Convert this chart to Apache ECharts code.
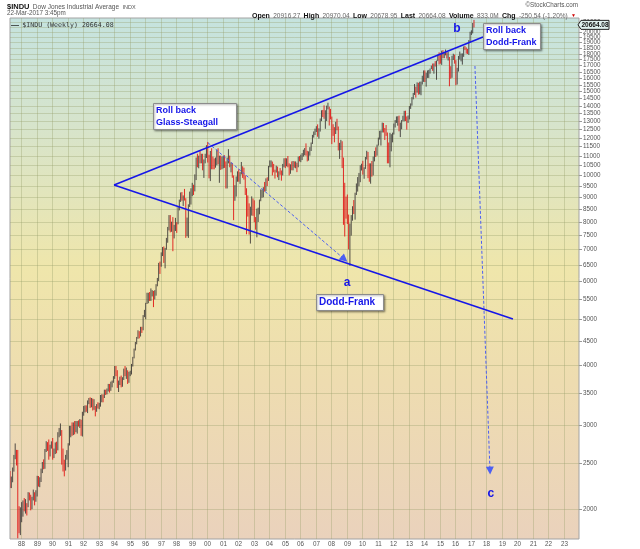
<!DOCTYPE html>
<html>
<head>
<meta charset="utf-8">
<script src="https://cdn.jsdelivr.net/npm/echarts@6.0.0/dist/echarts.min.js"></script>
<style>
html,body{margin:0;padding:0;background:#ffffff;}
#chart{width:640px;height:549px;}
</style>
</head>
<body>
<div id="chart"></div>
<script>
// ================= DATA =================
// Monthly bars of $INDU, first bar = April 1987
const firstYear = 1987;
const firstMonth = 4;
const firstOpen = 2305;
const closes = [
  2286,2292,2419,2572,2663,2596,1994,1834,1939,
  1958,2072,1988,2032,2031,2142,2129,2032,2113,2149,2115,2169,
  2342,2258,2294,2419,2480,2440,2661,2737,2693,2645,2706,2753,
  2591,2627,2707,2657,2877,2881,2905,2614,2452,2442,2560,2634,
  2736,2882,2914,2888,3028,2907,3025,3044,3017,3069,2895,3169,
  3223,3268,3235,3359,3397,3319,3394,3257,3272,3226,3305,3301,
  3310,3371,3435,3428,3527,3516,3539,3651,3555,3681,3684,3754,
  3978,3832,3636,3682,3758,3625,3765,3913,3843,3908,3739,3834,
  3844,4011,4158,4321,4465,4556,4708,4611,4789,4755,5074,5117,
  5395,5486,5587,5569,5643,5655,5529,5616,5882,6029,6522,6448,
  6813,6878,6583,7009,7331,7673,8223,7622,7945,7442,7823,7908,
  7907,8546,8800,9063,8900,8952,8883,7539,7843,8592,9117,9181,
  9359,9307,9786,10789,10560,10971,10655,10829,10337,10730,10878,11497,
  10941,10128,10922,10734,10522,10448,10522,11215,10651,10971,10414,10787,
  10887,10495,9879,10735,10912,10502,10523,9950,8848,9075,9852,10022,
  9920,10106,10404,9946,9925,9243,8737,8664,7592,8397,8896,8342,
  8054,7891,7992,8480,8850,8985,9234,9416,9275,9801,9782,10454,
  10488,10584,10358,10226,10188,10435,10140,10174,10080,10027,10428,10783,
  10490,10766,10504,10193,10467,10275,10641,10482,10569,10440,10806,10718,
  10865,10993,11109,11367,11168,11150,11186,11381,11679,12081,12222,12463,
  12622,12269,12354,13063,13628,13409,13212,13358,13896,13930,13372,13265,
  12650,12266,12263,12820,12638,11350,11378,11544,10851,9325,8829,8776,
  8001,7063,7609,8168,8500,8447,9172,9496,9712,9713,10345,10428,
  10067,10325,10857,11009,10137,9774,10466,10015,10788,11118,11006,11578,
  11892,12226,12320,12811,12570,12414,12143,11614,10913,11955,12046,12218,
  12633,12952,13212,13214,12393,12880,13009,13091,13437,13096,13026,13104,
  13861,14054,14579,14840,15116,14910,15500,14810,15130,15546,16086,16577,
  15699,16322,16458,16581,16717,16827,16563,17098,17043,17391,17828,17823,
  17165,18133,17776,17841,18011,17620,17690,16528,16285,17664,17720,17425,
  16466,16517,17685,17774,17787,17930,18432,18401,18308,18142,19124,19763,
  19864,20812,20664
];
const highs = [
  2405,2342,2446,2599,2747,2662,2662,2030,2019,
  2070,2087,2111,2100,2060,2172,2168,2145,2124,2199,2171,2192,
  2350,2348,2334,2433,2512,2544,2674,2777,2764,2800,2730,2775,
  2820,2680,2760,2770,2900,2960,3025,2930,2680,2540,2600,2660,
  2750,2990,2990,3040,3040,3060,3060,3060,3070,3090,3080,3200,
  3290,3300,3300,3380,3420,3430,3420,3410,3400,3290,3320,3350,
  3340,3470,3480,3480,3560,3560,3580,3660,3660,3700,3720,3800,
  3990,3990,3910,3720,3790,3810,3780,3940,3990,3960,3900,3880,
  3900,4030,4170,4340,4480,4590,4740,4720,4820,4820,5100,5230,
  5410,5680,5680,5700,5800,5750,5730,5750,5920,6100,6560,6600,
  6900,7080,7100,7050,7400,7800,8260,8260,8000,8180,7880,8150,
  7980,8580,8900,9210,9230,9080,9370,8960,8160,8700,9250,9400,
  9650,9560,10050,10900,11100,11000,11300,11100,11100,10800,11100,11570,
  11750,11050,11250,11400,10950,10850,10900,11330,11400,11000,11000,10950,
  11000,11020,10700,10900,11350,11000,10650,10620,10000,9540,9950,10200,
  10300,10160,10670,10450,10380,10000,9400,9080,8740,8600,9040,8950,
  8870,8180,8520,8560,8900,9350,9340,9450,9690,9860,9910,10470,
  10750,10750,10690,10570,10280,10480,10400,10200,10360,10240,10570,10860,
  10870,10860,10980,10600,10550,10700,10720,10700,10700,10630,10950,10980,
  11050,11140,11320,11410,11670,11260,11230,11460,11720,12160,12360,12530,
  12680,12790,12550,13160,13690,13710,14020,13690,14000,14200,13930,13780,
  13280,12800,12620,12950,13140,12660,11700,11870,11790,10900,9650,9030,
  9120,8280,7930,8260,8620,8880,9200,9620,9920,10120,10500,10580,
  10730,10400,10930,11260,11200,10600,10600,10720,10950,11250,11450,11600,
  12000,12400,12420,12900,12880,12570,12750,12300,11720,12280,12200,12290,
  12840,13060,13290,13300,13340,12900,13060,13330,13650,13660,13290,13350,
  13970,14150,14590,14890,15540,15340,15660,15630,15710,15720,16170,16590,
  16590,16400,16590,16630,16740,16980,17150,17160,17350,17400,17900,18100,
  18000,18250,18290,18110,18350,18100,18140,17700,16930,17800,17980,17900,
  17430,16800,17790,18170,18000,18010,18620,18670,18540,18400,19200,19990,
  20130,20850,21170
];
const lows = [
  2216,2215,2278,2398,2546,2470,1739,1782,1766,
  1879,1930,1980,1959,1941,2020,2087,1990,2001,2087,2038,2074,
  2127,2231,2225,2281,2381,2426,2431,2636,2650,2540,2580,2680,
  2540,2560,2610,2620,2660,2830,2850,2480,2400,2344,2410,2540,
  2450,2720,2830,2850,2860,2870,2900,2880,2980,2960,2850,2840,
  3140,3190,3200,3180,3320,3260,3270,3220,3230,3130,3200,3250,
  3240,3280,3350,3350,3420,3470,3480,3530,3510,3540,3600,3680,
  3750,3800,3590,3520,3640,3600,3610,3730,3800,3750,3660,3680,
  3800,3830,3980,4140,4300,4430,4550,4560,4600,4680,4740,5050,
  5000,5380,5400,5460,5460,5580,5300,5500,5600,5860,6010,6220,
  6440,6780,6560,6390,6990,7230,7670,7600,7620,6940,7380,7650,
  7580,7900,8450,8800,8850,8630,8860,7400,7460,7400,8590,8690,
  9050,9100,9260,9780,10400,10350,10600,10600,10250,9880,10600,10900,
  10640,9860,9730,10300,10300,10300,10380,10500,10550,9650,10270,10300,
  10350,10370,9390,9390,10600,10400,10150,9890,8060,8890,9030,9700,
  9700,9600,10050,9880,9800,9100,7530,8200,7520,7200,8240,8230,
  7980,7700,7420,7990,8290,8830,8980,9000,9250,9380,9500,9740,
  10400,10400,10000,10150,9850,10140,9910,9780,10030,9750,10000,10400,
  10360,10450,10400,10000,10080,10250,10250,10380,10350,10160,10400,10700,
  10660,10770,10950,11020,11000,10700,10740,11000,11250,11640,12000,12150,
  12330,12050,11940,12380,12990,13250,13140,12520,13000,13750,12720,13100,
  11630,12100,11730,12210,12430,11280,10830,11300,10360,7880,7450,8120,
  7910,7000,6470,7480,8040,8300,8080,9100,9250,9490,9680,10240,
  10040,9840,10320,10800,9870,9700,9610,9940,10000,10700,10930,11000,
  11550,11890,11550,12300,12300,11860,12100,10600,10600,10400,11230,11730,
  12180,12600,12880,12710,12370,12030,12490,12980,12980,13000,12470,12880,
  13100,13780,14000,14430,14740,14550,14900,14760,14780,14720,15500,15700,
  15690,15340,16000,16000,16330,16700,16560,16330,16900,15860,17350,17070,
  17140,17040,17600,17600,17840,17570,17400,15370,15940,16010,17450,17140,
  15450,15500,16500,17480,17330,17060,17710,18300,17990,17960,17880,19000,
  19680,19830,20410
];
const lastPrice = 20664.08;

// axis tick values and labels
const yearTicks = [1988,1989,1990,1991,1992,1993,1994,1995,1996,1997,1998,1999,2000,2001,2002,2003,2004,2005,
  2006,2007,2008,2009,2010,2011,2012,2013,2014,2015,2016,2017,2018,2019,2020,2021,2022,2023];
const yearLabels = ['88','89','90','91','92','93','94','95','96','97','98','99','00','01','02','03','04','05',
  '06','07','08','09','10','11','12','13','14','15','16','17','18','19','20','21','22','23'];
const priceTicks = [2000,2500,3000,3500,4000,4500,5000,5500,6000,6500,7000,7500,8000,8500,9000,9500,
  10000,10500,11000,11500,12000,12500,13000,13500,14000,14500,15000,15500,16000,16500,17000,17500,
  18000,18500,19000,19500,20000,20500,21000];

// annotations, in (year, price) terms
const upperTrend = [[1994.0, 9550], [2017.79, 19500]];
const lowerTrend = [[1994.0, 9550], [2019.72, 5006]];
const projectionA = [[2000.06, 11700], [2008.85, 6680]];
const projectionC = [[2017.27, 16950], [2018.24, 2410]];
const waveLabels = [[2009.02, 5954, 'a'], [2016.11, 20262, 'b'], [2018.30, 2152, 'c']];
const noteAnchors = [[1996.51, 14180], [2017.79, 20856], [2007.02, 5646]];
const noteTexts = ['Roll back\nGlass-Steagall', 'Roll back\nDodd-Frank', 'Dodd-Frank'];

// ================= STYLE =================
const FONT = 'Liberation Sans, Arial, sans-serif';
const X_MIN = 1987.29, X_MAX = 2023.98, Y_MIN = 1733, Y_MAX = 21360;
const GRID_COLOR = 'rgba(150,158,105,0.34)';
const ANNOT_BLUE = '#1616e8';
const NOTE_BOX_SIZES = [[83, 26], [57, 26], [67, 16]];
const NOTE_FONT_SIZES = [9, 9, 10];

// ================= BUILD =================
const bars = closes.map((c, i) => {
  const x = firstYear + (firstMonth - 1 + i + 0.5) / 12;
  const o = i === 0 ? firstOpen : closes[i - 1];
  return [x, o, highs[i], lows[i], c];
});

const chart = echarts.init(document.getElementById('chart'), null, {renderer: 'canvas'});

const option = {
  animation: false,
  backgroundColor: '#ffffff',
  grid: {
    left: 10, right: 61, top: 18, bottom: 10,
    show: true,
    borderColor: '#a3a3a3', borderWidth: 1,
    backgroundColor: {
      type: 'linear', x: 0, y: 0, x2: 0, y2: 1,
      colorStops: [
        {offset: 0, color: '#c5e3df'},
        {offset: 0.2, color: '#d6e4cc'},
        {offset: 0.48, color: '#efe6ab'},
        {offset: 0.7, color: '#eedcb0'},
        {offset: 1, color: '#ead2bc'}
      ]
    }
  },
  xAxis: {type: 'value', min: X_MIN, max: X_MAX, show: false},
  yAxis: {type: 'log', logBase: 10, min: Y_MIN, max: Y_MAX, show: false},
  graphic: [
    {type: 'text', x: 7, y: 1, silent: true, style: {
      text: '{a|$INDU} {b|Dow Jones Industrial Average} {c|INDX}',
      rich: {
        a: {fontFamily: FONT, fontSize: 7.5, fontWeight: 'bold', fill: '#111'},
        b: {fontFamily: FONT, fontSize: 6.5, fill: '#555'},
        c: {fontFamily: FONT, fontSize: 5.5, fill: '#555'}
      }
    }},
    {type: 'text', x: 7, y: 10, silent: true, style: {
      text: '22-Mar-2017 3:45pm', fontFamily: FONT, fontSize: 6.3, fill: '#555'
    }},
    {type: 'text', x: 578, y: 2, silent: true, style: {
      text: '©StockCharts.com', fontFamily: FONT, fontSize: 6.3, fill: '#555', align: 'right'
    }},
    {type: 'text', x: 576, y: 10, silent: true, style: {
      text: '{l|Open} {v|20916.27} {l|High} {v|20970.04} {l|Low} {v|20678.95} {l|Last} {v|20664.08} {l|Volume} {v|833.0M} {l|Chg} {v|-250.54 (-1.20%)} {r|▼}',
      align: 'right',
      rich: {
        l: {fontFamily: FONT, fontSize: 7, fontWeight: 'bold', fill: '#111'},
        v: {fontFamily: FONT, fontSize: 6.5, fill: '#666'},
        r: {fontFamily: FONT, fontSize: 5, fill: '#d00000'}
      }
    }},
    {type: 'text', x: 11, y: 19, z: 100, silent: true, style: {
      text: '{d|—} {t|$INDU (Weekly) 20664.08}',
      rich: {
        d: {fontFamily: FONT, fontSize: 8, fontWeight: 'bold', fill: '#222'},
        t: {fontFamily: 'DejaVu Sans Mono, monospace', fontSize: 6.6, fill: '#333'}
      }
    }}
  ],
  series: [
    // vertical year grid lines and labels
    {
      type: 'custom', silent: true, z: 1, clip: false,
      data: yearTicks.map(y => [y, Y_MIN]),
      renderItem(params, api) {
        const cs = params.coordSys;
        const x = Math.round(api.coord([api.value(0), Y_MIN])[0]) + 0.5;
        const bottom = cs.y + cs.height;
        return {type: 'group', children: [
          {type: 'line', shape: {x1: x, y1: cs.y, x2: x, y2: bottom}, style: {stroke: GRID_COLOR, lineWidth: 1}},
          {type: 'text', x: x, y: bottom + 2, style: {
            text: yearLabels[params.dataIndex], fill: '#555', fontSize: 6.3, fontFamily: FONT,
            align: 'center', verticalAlign: 'top'}}
        ]};
      }
    },
    // horizontal price grid lines and labels
    {
      type: 'custom', silent: true, z: 1, clip: false,
      data: priceTicks.map(v => [X_MIN, v]),
      renderItem(params, api) {
        const cs = params.coordSys;
        const y = Math.round(api.coord([X_MIN, api.value(1)])[1]) + 0.5;
        const right = cs.x + cs.width;
        return {type: 'group', children: [
          {type: 'line', shape: {x1: cs.x, y1: y, x2: right, y2: y}, style: {stroke: GRID_COLOR, lineWidth: 1}},
          {type: 'line', shape: {x1: right, y1: y, x2: right + 3, y2: y}, style: {stroke: '#999', lineWidth: 1}},
          {type: 'text', x: right + 4, y: y, style: {
            text: String(api.value(1)), fill: '#555', fontSize: 6.3, fontFamily: FONT,
            align: 'left', verticalAlign: 'middle'}}
        ]};
      }
    },
    // price bars
    {
      type: 'custom', silent: true, z: 3, clip: true,
      dimensions: ['x', 'open', 'high', 'low', 'close'],
      encode: {x: 0, y: [2, 3]},
      data: bars,
      renderItem(params, api) {
        const x = api.value(0), o = api.value(1), h = api.value(2), l = api.value(3), c = api.value(4);
        const top = Math.max(h, o, c), bot = Math.min(l, o, c);
        const p1 = api.coord([x, top]), p2 = api.coord([x, bot]);
        return {type: 'line', shape: {x1: p1[0], y1: p1[1], x2: p2[0], y2: p2[1]},
          style: {stroke: c < o ? '#e00a0a' : '#353030', lineWidth: 0.85}};
      }
    },
    // trend lines
    {
      type: 'line', silent: true, z: 4, symbol: 'none', data: upperTrend,
      lineStyle: {color: ANNOT_BLUE, width: 1.6}
    },
    {
      type: 'line', silent: true, z: 4, symbol: 'none', data: lowerTrend,
      lineStyle: {color: ANNOT_BLUE, width: 1.6}
    },
    // dashed projection arrows
    {
      type: 'lines', coordinateSystem: 'cartesian2d', silent: true, z: 4,
      symbol: ['none', 'triangle'], symbolSize: 8,
      lineStyle: {color: '#4c5ff2', width: 1, type: [3, 2], opacity: 1},
      data: [{coords: projectionA}, {coords: projectionC}]
    },
    // wave letters
    {
      type: 'custom', silent: true, z: 5, clip: false,
      data: waveLabels.map(w => [w[0], w[1]]),
      renderItem(params, api) {
        const p = api.coord([api.value(0), api.value(1)]);
        return {type: 'text', x: p[0], y: p[1], style: {
          text: waveLabels[params.dataIndex][2], fill: ANNOT_BLUE,
          fontFamily: FONT, fontWeight: 'bold', fontSize: 12, align: 'center', verticalAlign: 'middle'}};
      }
    },
    // note boxes
    {
      type: 'custom', silent: true, z: 6, clip: false,
      data: noteAnchors,
      renderItem(params, api) {
        const i = params.dataIndex;
        const p = api.coord([api.value(0), api.value(1)]);
        const w = NOTE_BOX_SIZES[i][0], h = NOTE_BOX_SIZES[i][1];
        const bx = Math.round(p[0]) + 0.5, by = Math.round(p[1]) + 0.5;
        return {type: 'group', children: [
          {type: 'rect', shape: {x: bx, y: by, width: w, height: h}, style: {
            fill: '#ffffff', stroke: '#8c8c8c', lineWidth: 1,
            shadowBlur: 2, shadowOffsetX: 1, shadowOffsetY: 1, shadowColor: 'rgba(0,0,0,0.35)'}},
          {type: 'text', x: bx + 2.5, y: by + h / 2, style: {
            text: noteTexts[i], fill: ANNOT_BLUE, fontFamily: FONT, fontWeight: 'bold',
            fontSize: NOTE_FONT_SIZES[i], lineHeight: 12, align: 'left', verticalAlign: 'middle'}}
        ]};
      }
    },
    // last price tag on the right axis
    {
      type: 'custom', silent: true, z: 7, clip: false,
      data: [[X_MAX, lastPrice]],
      renderItem(params, api) {
        const cs = params.coordSys;
        const y = api.coord([X_MAX, api.value(1)])[1];
        const x0 = cs.x + cs.width;
        return {type: 'group', children: [
          {type: 'polygon', shape: {points: [[x0 - 1, y], [x0 + 2, y - 4.5], [x0 + 30, y - 4.5], [x0 + 30, y + 4.5], [x0 + 2, y + 4.5]]},
            style: {fill: '#dff0ee', stroke: '#222', lineWidth: 1}},
          {type: 'text', x: x0 + 16, y: y, style: {
            text: '20664.08', fill: '#111', fontFamily: FONT, fontSize: 6.5, fontWeight: 'bold',
            align: 'center', verticalAlign: 'middle'}}
        ]};
      }
    }
  ]
};
chart.setOption(option);
</script>
</body>
</html>
